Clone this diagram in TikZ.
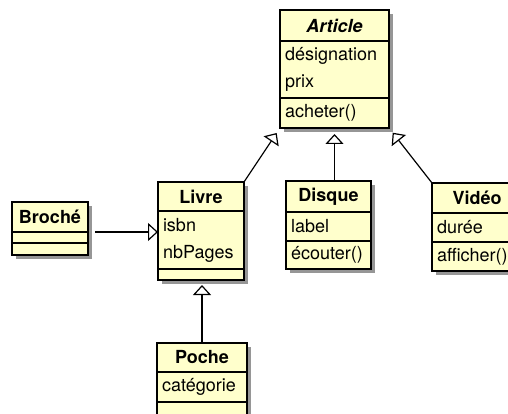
\documentclass[tikz,border=0pt]{standalone}
\usepackage{fontspec}
\setmainfont{TeX Gyre Heros}
\usetikzlibrary{arrows.meta,shadows}
\definecolor{jaune}{RGB}{255,255,204}
\definecolor{ombre}{RGB}{150,150,150}

\begin{document}
\begin{tikzpicture}[x=1pt,y=-1pt]
		\tikzstyle{every node}=[font=\fontsize{18}{27}\selectfont]
		\tikzstyle{classe} = [draw, fill=jaune, line width=1.2pt, outer sep=0pt, inner xsep=5pt, inner ysep=2pt, anchor=north west, drop shadow={shadow xshift=4pt, shadow yshift=-4pt, fill=ombre, opacity=1}]
		\tikzstyle{titre} = [classe, font=\fontsize{18}{27}\selectfont\bfseries, align=center]
		\tikzstyle{membres} = [classe, align=left]
		\tikzstyle{herite} = [-{Triangle[open, length=10pt, width=18pt]}, line width=1.2pt]
		
		\path[use as bounding box, clip] (0,0) rectangle (508,414);
		
		% Article
		\draw (280,10) node[titre, text width=99pt, minimum height=31pt](article){\textit{Article}};
		\draw (article.south west) node[membres, text width=99pt, minimum height=57pt](article-att){désignation\\prix};
		\draw (article-att.south west) node[membres, text width=99pt, minimum height=30pt](article-op){acheter()};
		
		% Livre
		\draw (158,182) node[titre, text width=76pt, minimum height=29pt](livre){Livre};
		\draw (livre.south west) node[membres, text width=76pt, minimum height=58pt](livre-att){isbn\\nbPages};
		\draw (livre-att.south west) node[membres, text width=76pt, minimum height=11pt](livre-op){};
		
		% Broché
		\draw (12,202) node[titre, text width=66pt, minimum height=30pt](broche){Broché};
		\draw (broche.south west) node[membres, text width=66pt, minimum height=11pt](broche-att){};
		\draw (broche-att.south west) node[membres, text width=66pt, minimum height=12pt](broche-op){};
		
		% Disque
		\draw (286,181) node[titre, text width=75pt, minimum height=31pt](disque){Disque};
		\draw (disque.south west) node[membres, text width=75pt, minimum height=29pt](disque-att){label};
		\draw (disque-att.south west) node[membres, text width=75pt, minimum height=28pt](disque-op){écouter()};
		
		% Vidéo
		\draw (432,183) node[titre, text width=80pt, minimum height=30pt](video){Vidéo};
		\draw (video.south west) node[membres, text width=80pt, minimum height=29pt](video-att){durée};
		\draw (video-att.south west) node[membres, text width=80pt, minimum height=29pt](video-op){afficher()};
		
		% Poche
		\draw (157,343) node[titre, text width=80pt, minimum height=29pt](poche){Poche};
		\draw (poche.south west) node[membres, text width=80pt, minimum height=30pt](poche-att){catégorie};
		\draw (poche-att.south west) node[membres, text width=80pt, minimum height=14pt](poche-op){};
		
		% héritages
		\draw[herite, shorten <=7pt] (broche.south east) -- (broche.south east -| livre.west);
		\draw[herite, shorten >=5pt] (poche.north) -- (poche.north |- livre-op.south);
		\draw[herite, shorten >=6pt] (livre.north east) -- (article-op.south west);
		\draw[herite, shorten >=6pt] (article-op.south |- disque.north) -- (article-op.south);
		\draw[herite, shorten >=6pt] (video.north west) -- (article-op.south east);
	\end{tikzpicture}
\end{document}
